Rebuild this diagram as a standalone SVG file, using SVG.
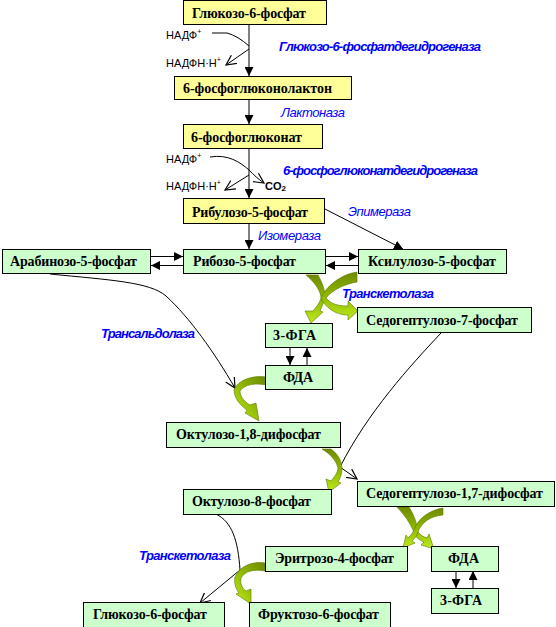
<svg xmlns="http://www.w3.org/2000/svg" width="556" height="627" viewBox="0 0 556 627">
<style>
.box{stroke:#000;stroke-width:1}
.y{fill:#FFFF99}
.g{fill:#CCFFCC}
.lbl{font-family:"Liberation Serif","Times New Roman",serif;font-weight:bold;font-size:14px;fill:#000}
.enzb{font-family:"Liberation Sans",Arial,sans-serif;font-weight:bold;font-style:italic;font-size:13px;fill:#0000FF}
.enz{font-family:"Liberation Sans",Arial,sans-serif;font-style:italic;font-size:13px;fill:#0000FF}
.small{font-family:"Liberation Sans",Arial,sans-serif;font-size:11px;fill:#000}
.ln{fill:none;stroke:#000;stroke-width:1}
.solid{marker-end:url(#tri)}
.open{marker-end:url(#vee)}
.ga{stroke:#5C7A00;stroke-width:0.6}
</style>
<defs>
<marker id="tri" markerUnits="userSpaceOnUse" markerWidth="10" markerHeight="9" refX="9" refY="4.5" orient="auto">
<path d="M0,0 L9,4.5 L0,9 z" fill="#000"/>
</marker>
<marker id="vee" markerUnits="userSpaceOnUse" markerWidth="12" markerHeight="12" refX="10" refY="6" orient="auto">
<path d="M0,1 L10,6 L0,11" fill="none" stroke="#000" stroke-width="1.2"/>
</marker>
<linearGradient id="gv" x1="0" y1="0" x2="0" y2="1">
<stop offset="0" stop-color="#6F8A00"/>
<stop offset="0.5" stop-color="#8FB800"/>
<stop offset="1" stop-color="#BEEB1E"/>
</linearGradient>
<linearGradient id="gh" x1="1" y1="0" x2="0" y2="1">
<stop offset="0" stop-color="#6F8A00"/>
<stop offset="0.5" stop-color="#8FB800"/>
<stop offset="1" stop-color="#BEEB1E"/>
</linearGradient>
</defs>

<g id="connectors">
<!-- main vertical chain -->
<line class="ln solid" x1="249" y1="25" x2="249" y2="76"/>
<line class="ln solid" x1="249" y1="100" x2="249" y2="124"/>
<line class="ln solid" x1="249" y1="149" x2="249" y2="198"/>
<line class="ln solid" x1="249" y1="224" x2="249" y2="249"/>
<!-- NADP set 1 -->
<path class="ln" d="M212,33 L227,33 Q238,36 249,46"/>
<path class="ln open" d="M249,49 L226,65"/>
<!-- NADP set 2 -->
<path class="ln" d="M210,157 C228,154 240,162 249,170"/>
<path class="ln open" d="M249,170 C254,175 258,179 264,183"/>
<path class="ln open" d="M249,175 L225,190"/>
<!-- ribulose -> xylulose -->
<line class="ln solid" x1="323" y1="208" x2="403" y2="249"/>
<!-- arabinose <-> ribose -->
<line class="ln solid" x1="151" y1="256.5" x2="183" y2="256.5"/>
<line class="ln solid" x1="183" y1="265.5" x2="151" y2="265.5"/>
<!-- ribose <-> xylulose -->
<line class="ln solid" x1="326" y1="256.5" x2="358" y2="256.5"/>
<line class="ln solid" x1="358" y1="265.5" x2="326" y2="265.5"/>
<!-- 3-PGA <-> FDA -->
<line class="ln solid" x1="290" y1="348" x2="290" y2="365"/>
<line class="ln solid" x1="307" y1="365" x2="307" y2="348"/>
<line class="ln solid" x1="456" y1="571" x2="456" y2="588"/>
<line class="ln solid" x1="473" y1="588" x2="473" y2="571"/>
<!-- thin curved lines -->
<path class="ln open" stroke-width="1.3" d="M50,274 C110,280 150,282 166,296 C190,318 214,352 235,388"/>
<path class="ln" d="M441,333 C410,366 368,412 340,467"/>
<path class="ln open" d="M340,467 L357,479"/>
<path class="ln" d="M216,514 C232,522 238,540 240,570"/>
<path class="ln open" d="M240,570 L200,603"/>
<!-- green block arrows -->
<path class="ga" fill="url(#gv)" d="M306,275 L318,275 C322,282 325,290 325,297 C324,303 321,308 320,311 L323,312 L311,323 L305,311 L313,311 C317,306 321,301 321,297 C320,289 313,281 306,275 Z"/>
<path class="ga" fill="url(#gv)" d="M357,272 L357,282 C345,284 332,290 326,298 C331,304 338,306 348,306 L348,301 L358,311 L348,320 L348,315 C335,315 325,307 321,298 C327,285 342,274 357,272 Z"/>
<path class="ga" fill="url(#gh)" d="M266,377 L266,385 C255,383 245,384 240,391 C240,397 245,402 250,405 L256,403 L259,421 L245,413 L247,410 C240,405 234,398 234,390 C238,380 252,375 266,377 Z"/>
<path class="ga" fill="url(#gv)" d="M322,449 L331,449 C338,454 342,461 342,469 C342,474 340,479 338,482 L341,483 L329,492 L326,479 L331,481 C335,476 338,472 338,468 C336,460 330,454 322,449 Z"/>
<path class="ga" fill="url(#gv)" d="M397,507 L409,507 C414,515 417,523 418,532 C420,535 424,537 427,538 L429,534 L434,549 L421,545 L424,542 C419,540 415,537 414,532 C410,523 404,514 397,507 Z"/>
<path class="ga" fill="url(#gv)" d="M443,508 L443,515 C430,516 421,523 418,532 C417,536 414,539 412,541 L415,543 L403,548 L406,535 L408,538 C411,535 413,532 414,530 C418,518 430,510 443,508 Z"/>
<path class="ga" fill="url(#gh)" d="M265,563 L265,571 C254,569 245,571 241,578 C240,584 242,588 246,591 L251,589 L251,604 L236,594 L239,593 C235,588 234,582 235,577 C240,566 252,561 265,563 Z"/>
</g>

<g id="cofactors">
<text class="small" x="166" y="39">НАДФ<tspan font-size="7" dy="-5">+</tspan></text>
<text class="small" x="166" y="67">НАДФН·Н<tspan font-size="7" dy="-5">+</tspan></text>
<text class="small" x="166" y="163">НАДФ<tspan font-size="7" dy="-5">+</tspan></text>
<text class="small" x="166" y="190">НАДФН·Н<tspan font-size="7" dy="-5">+</tspan></text>
<text class="small" x="265" y="190" font-weight="bold">CO<tspan font-size="8" dy="1">2</tspan></text>
</g>

<g id="enzymes">
<text class="enzb" x="279" y="51" textLength="202" lengthAdjust="spacing">Глюкозо-6-фосфатдегидрогеназа</text>
<text class="enz" x="281" y="117" textLength="64" lengthAdjust="spacing">Лактоназа</text>
<text class="enzb" x="283" y="175" textLength="195" lengthAdjust="spacing">6-фосфоглюконатдегидрогеназа</text>
<text class="enz" x="348" y="216" textLength="63" lengthAdjust="spacing">Эпимераза</text>
<text class="enz" x="258" y="240" textLength="63" lengthAdjust="spacing">Изомераза</text>
<text class="enzb" x="342" y="298" textLength="92" lengthAdjust="spacing">Транскетолаза</text>
<text class="enzb" x="101" y="338" textLength="94" lengthAdjust="spacing">Трансальдолаза</text>
<text class="enzb" x="139" y="560" textLength="92" lengthAdjust="spacing">Транскетолаза</text>
</g>

<g id="n1"><rect class="box y" x="183.5" y="0.5" width="143" height="24"/><text class="lbl" x="192" y="18" textLength="114" lengthAdjust="spacing">Глюкозо-6-фосфат</text></g>
<g id="n2"><rect class="box y" x="174.5" y="76.5" width="177" height="23"/><text class="lbl" x="183" y="93" textLength="149" lengthAdjust="spacing">6-фосфоглюконолактон</text></g>
<g id="n3"><rect class="box y" x="183.5" y="124.5" width="139" height="24"/><text class="lbl" x="191" y="142" textLength="111" lengthAdjust="spacing">6-фосфоглюконат</text></g>
<g id="n4"><rect class="box y" x="183.5" y="198.5" width="141" height="25"/><text class="lbl" x="192" y="217" textLength="116" lengthAdjust="spacing">Рибулозо-5-фосфат</text></g>
<g id="n5"><rect class="box g" x="2.5" y="249.5" width="148" height="24"/><text class="lbl" x="10" y="266" textLength="127" lengthAdjust="spacing">Арабинозо-5-фосфат</text></g>
<g id="n6"><rect class="box g" x="183.5" y="249.5" width="142" height="24"/><text class="lbl" x="193" y="266" textLength="103" lengthAdjust="spacing">Рибозо-5-фосфат</text></g>
<g id="n7"><rect class="box g" x="358.5" y="249.5" width="148" height="24"/><text class="lbl" x="368" y="266" textLength="128" lengthAdjust="spacing">Ксилулозо-5-фосфат</text></g>
<g id="n8"><rect class="box g" x="357.5" y="307.5" width="174" height="25"/><text class="lbl" x="366" y="325" textLength="152" lengthAdjust="spacing">Седогептулозо-7-фосфат</text></g>
<g id="n9"><rect class="box g" x="265.5" y="323.5" width="67" height="24"/><text class="lbl" x="273" y="340" textLength="43" lengthAdjust="spacing">3-ФГА</text></g>
<g id="n10"><rect class="box g" x="265.5" y="365.5" width="67" height="24"/><text class="lbl" x="283" y="382" textLength="30" lengthAdjust="spacing">ФДА</text></g>
<g id="n11"><rect class="box g" x="166.5" y="422.5" width="174" height="25"/><text class="lbl" x="176" y="439" textLength="145" lengthAdjust="spacing">Октулозо-1,8-дифосфат</text></g>
<g id="n12"><rect class="box g" x="357.5" y="481.5" width="197" height="25"/><text class="lbl" x="366" y="498" textLength="177" lengthAdjust="spacing">Седогептулозо-1,7-дифосфат</text></g>
<g id="n13"><rect class="box g" x="183.5" y="489.5" width="148" height="25"/><text class="lbl" x="192" y="506" textLength="119" lengthAdjust="spacing">Октулозо-8-фосфат</text></g>
<g id="n14"><rect class="box g" x="265.5" y="546.5" width="142" height="25"/><text class="lbl" x="275" y="563" textLength="119" lengthAdjust="spacing">Эритрозо-4-фосфат</text></g>
<g id="n15"><rect class="box g" x="431.5" y="546.5" width="67" height="25"/><text class="lbl" x="448" y="563" textLength="31" lengthAdjust="spacing">ФДА</text></g>
<g id="n16"><rect class="box g" x="431.5" y="588.5" width="67" height="25"/><text class="lbl" x="440" y="605" textLength="42" lengthAdjust="spacing">3-ФГА</text></g>
<g id="n17"><rect class="box g" x="83.5" y="602.5" width="141" height="25"/><text class="lbl" x="93" y="619" textLength="114" lengthAdjust="spacing">Глюкозо-6-фосфат</text></g>
<g id="n18"><rect class="box g" x="249.5" y="602.5" width="141" height="25"/><text class="lbl" x="258" y="619" textLength="121" lengthAdjust="spacing">Фруктозо-6-фосфат</text></g>
</svg>
